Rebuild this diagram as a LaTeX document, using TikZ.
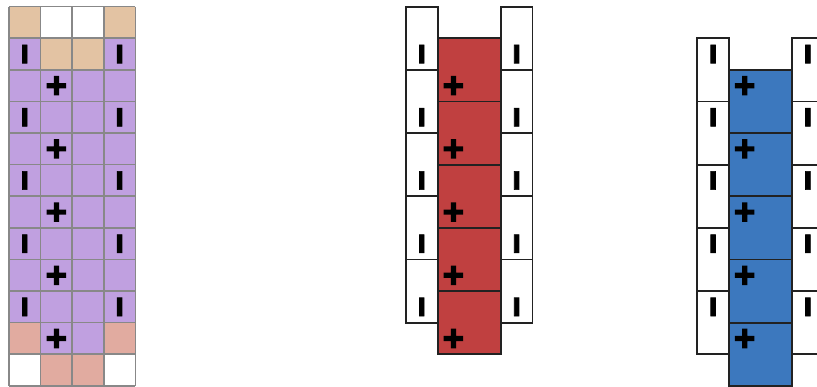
\documentclass[tikz,border=0pt]{standalone}
\usepackage{fontspec}
\newfontfamily\symfont[FakeBold=2.5]{DejaVu Sans Bold}
\newfontfamily\plusfont[FakeBold=7]{DejaVu Sans Bold}
\definecolor{tanc}{HTML}{E3C3A3}
\definecolor{purp}{HTML}{C0A0E0}
\definecolor{salm}{HTML}{E1ABA0}
\definecolor{redc}{HTML}{C04040}
\definecolor{bluec}{HTML}{3C78BE}
\definecolor{gridc}{HTML}{888888}
\definecolor{edgec}{HTML}{222222}
\tikzset{
  gridline/.style={draw=gridc, line width=1.6pt},
  blockbox/.style={draw=edgec, line width=1.8pt},
  isym/.style={inner sep=0pt, font=\symfont\fontsize{25}{25}\selectfont},
  psym/.style={inner sep=0pt, font=\plusfont\fontsize{28}{28}\selectfont}
}
\begin{document}
\begin{tikzpicture}[x=1pt,y=-1pt]
\path[use as bounding box] (0,0) rectangle (817,387);
\clip (0,0) rectangle (817,387);
% left grid
\begin{scope}[shift={(9,6.7)}, x=31.6pt, y=-31.6pt]
  \fill[purp] (0,0) rectangle (4,12);
  \fill[tanc] (0,0) rectangle (1,1);
  \fill[tanc] (3,0) rectangle (4,1);
  \fill[white] (1,0) rectangle (3,1);
  \fill[tanc] (1,1) rectangle (3,2);
  \fill[salm] (0,10) rectangle (1,11);
  \fill[salm] (3,10) rectangle (4,11);
  \fill[white] (0,11) rectangle (1,12);
  \fill[white] (3,11) rectangle (4,12);
  \fill[salm] (1,11) rectangle (3,12);
  \foreach \c in {0,...,4} { \draw[gridline] (\c,0) -- (\c,12); }
  \foreach \r in {0,...,12} { \draw[gridline] (0,\r) -- (4,\r); }
  \foreach \r in {1,3,5,7,9} {
    \node[isym] (LIa\r) at (0.5,\r+0.5) {I};
    \node[isym] (LIb\r) at (3.5,\r+0.5) {I};
  }
  \foreach \r in {2,4,6,8,10} {
    \node[psym] (LP\r) at (1.5,\r+0.5) {+};
  }
\end{scope}
% middle (red)
\begin{scope}[shift={(406,6.7)}, x=31.6pt, y=-31.6pt]
  \foreach \k in {0,...,4} {
    \filldraw[blockbox, fill=white] (0,2*\k) rectangle (1,2*\k+2);
    \filldraw[blockbox, fill=white] (3,2*\k) rectangle (4,2*\k+2);
  }
  \foreach \k in {0,...,4} {
    \filldraw[blockbox, fill=redc] (1,2*\k+1) rectangle (3,2*\k+3);
  }
  \foreach \r in {1,3,5,7,9} {
    \node[isym] (MIa\r) at (0.5,\r+0.5) {I};
    \node[isym] (MIb\r) at (3.5,\r+0.5) {I};
  }
  \foreach \r in {2,4,6,8,10} {
    \node[psym] (MP\r) at (1.5,\r+0.5) {+};
  }
\end{scope}
% right (blue)
\begin{scope}[shift={(697.3,6.7)}, x=31.6pt, y=-31.6pt]
  \foreach \k in {0,...,4} {
    \filldraw[blockbox, fill=white] (0,2*\k+1) rectangle (1,2*\k+3);
    \filldraw[blockbox, fill=white] (3,2*\k+1) rectangle (4,2*\k+3);
  }
  \foreach \k in {0,...,4} {
    \filldraw[blockbox, fill=bluec] (1,2*\k+2) rectangle (3,2*\k+4);
  }
  \foreach \r in {1,3,5,7,9} {
    \node[isym] (RIa\r) at (0.5,\r+0.5) {I};
    \node[isym] (RIb\r) at (3.5,\r+0.5) {I};
  }
  \foreach \r in {2,4,6,8,10} {
    \node[psym] (RP\r) at (1.5,\r+0.5) {+};
  }
\end{scope}
\end{tikzpicture}
\end{document}
